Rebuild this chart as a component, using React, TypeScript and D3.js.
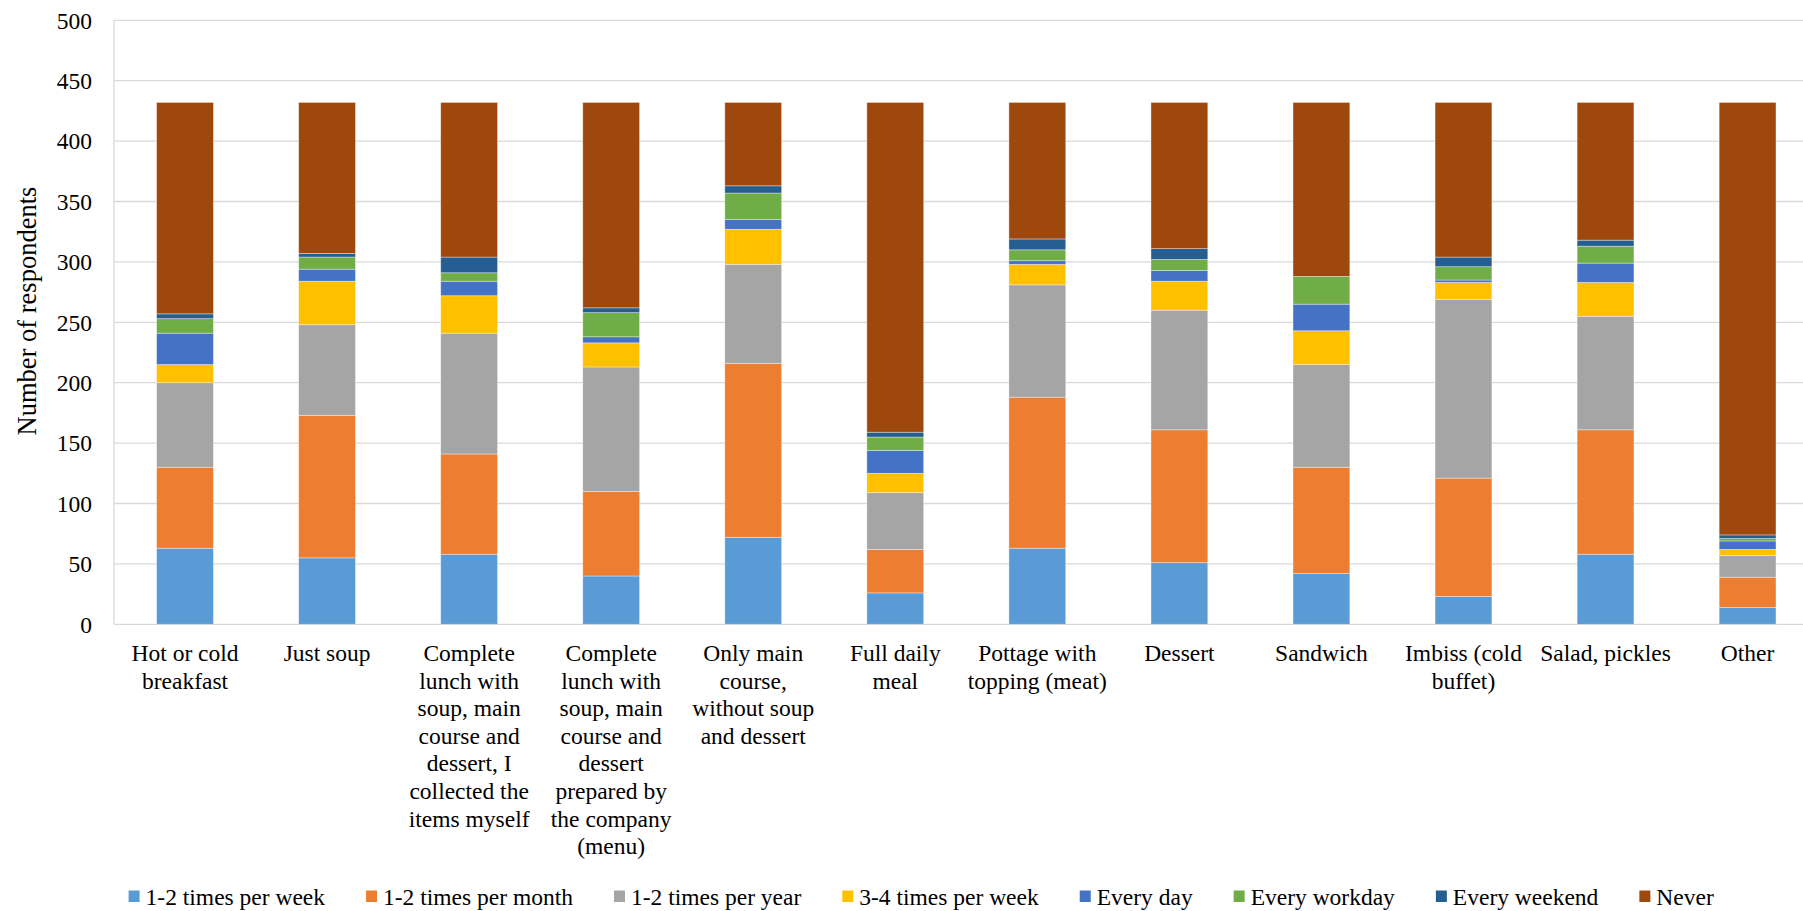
import React from 'react';
import * as d3 from 'd3';

// categories (each entry holds the wrapped label lines)
const categoryLines: string[][] = [
    ['Hot or cold', 'breakfast'],
    ['Just soup'],
    ['Complete', 'lunch with', 'soup, main', 'course and', 'dessert, I', 'collected the', 'items myself'],
    ['Complete', 'lunch with', 'soup, main', 'course and', 'dessert', 'prepared by', 'the company', '(menu)'],
    ['Only main', 'course,', 'without soup', 'and dessert'],
    ['Full daily', 'meal'],
    ['Pottage with', 'topping (meat)'],
    ['Dessert'],
    ['Sandwich'],
    ['Imbiss (cold', 'buffet)'],
    ['Salad, pickles'],
    ['Other'],
];

const seriesNames = [
    '1-2 times per week',
    '1-2 times per month',
    '1-2 times per year',
    '3-4 times per week',
    'Every day',
    'Every workday',
    'Every weekend',
    'Never',
];

const seriesColors = ['#5B9BD5', '#ED7D31', '#A5A5A5', '#FFC000', '#4472C4', '#70AD47', '#255E91', '#9E480E'];

// values per series, one per category
const perWeek12 = [63, 55, 58, 40, 72, 26, 63, 51, 42, 23, 58, 14];
const perMonth12 = [67, 118, 83, 70, 144, 36, 125, 110, 88, 98, 103, 25];
const perYear12 = [70, 75, 100, 103, 82, 47, 93, 99, 85, 148, 94, 18];
const perWeek34 = [15, 36, 31, 20, 29, 16, 17, 24, 28, 14, 28, 5];
const everyDay = [26, 10, 12, 5, 8, 19, 3, 9, 22, 2, 16, 7];
const everyWorkday = [12, 10, 7, 20, 22, 11, 9, 9, 23, 11, 14, 2];
const everyWeekend = [4, 3, 13, 4, 6, 4, 9, 9, 0, 8, 5, 3];
const never = [175, 125, 128, 170, 69, 273, 113, 121, 144, 128, 114, 358];

const yTicks = [0, 50, 100, 150, 200, 250, 300, 350, 400, 450, 500];

const WIDTH = 1803, HEIGHT = 911;
const FONT = "'Liberation Serif', 'Times New Roman', serif";
const FS = 23.5;

export default function App() {
    const seriesValues = [perWeek12, perMonth12, perYear12, perWeek34, everyDay, everyWorkday, everyWeekend, never];
    const keys = categoryLines.map((_, i) => String(i));

    const rows = keys.map((k, i) => {
        const row: any = {key: k};
        seriesNames.forEach((name, s) => { row[name] = seriesValues[s][i]; });
        return row;
    });

    const stacked = d3.stack().keys(seriesNames)(rows);

    const xScale = d3.scaleBand()
        .domain(keys)
        .range([114, 1818.6])
        .paddingInner(0.6)
        .paddingOuter(0.3);

    const yScale = d3.scaleLinear()
        .domain([0, 500])
        .range([624.3, 20.3]);

    // legend layout from measured text widths
    const ctx = document.createElement('canvas').getContext('2d');
    if (ctx) ctx.font = `${FS}px ${FONT}`;
    let lx = 128.6;
    const legendItems = seriesNames.map((name, i) => {
        const w = ctx ? ctx.measureText(name).width : name.length * 10;
        const item = {name, color: seriesColors[i], x: lx};
        lx += 11 + 6 + w + 41;
        return item;
    });

    return (
        <svg width={WIDTH} height={HEIGHT} style={{position: 'absolute', left: 0, top: 0, background: '#fff'}}
             fontFamily={FONT}>
            <rect x={0} y={0} width={WIDTH} height={HEIGHT} fill="#fff"/>

            {/* gridlines */}
            {yTicks.map(t => (
                <line key={t} x1={114} x2={WIDTH} y1={yScale(t)} y2={yScale(t)} stroke="#d9d9d9" strokeWidth={1.3}/>
            ))}
            <line x1={114} x2={114} y1={yScale(500)} y2={yScale(0)} stroke="#d9d9d9" strokeWidth={1.3}/>

            {/* y tick labels */}
            {yTicks.map(t => (
                <text key={t} x={92} y={yScale(t)} dy="0.35em" textAnchor="end" fontSize={FS} fill="#000">{t}</text>
            ))}

            <text transform="translate(27,311) rotate(-90)" textAnchor="middle"
                  dy="0.35em" fontSize={26.5} fill="#000">Number of respondents</text>

            {/* bars */}
            {stacked.map((series, s) => (
                <g key={series.key} fill={seriesColors[s]}>
                    {series.map((d, i) => (
                        d[1] - d[0] > 0 ?
                            <rect key={i}
                                  x={xScale(keys[i])}
                                  y={yScale(d[1])}
                                  width={xScale.bandwidth()}
                                  height={yScale(d[0]) - yScale(d[1])}
                                  stroke="#ffffff" strokeOpacity={0.45} strokeWidth={0.8}/> : null
                    ))}
                </g>
            ))}

            {/* category labels */}
            {categoryLines.map((lines, i) => (
                <text key={i} textAnchor="middle" fontSize={FS} fill="#000"
                      x={(xScale(keys[i]) || 0) + xScale.bandwidth() / 2}>
                    {lines.map((line, j) => (
                        <tspan key={j} x={(xScale(keys[i]) || 0) + xScale.bandwidth() / 2} y={661 + j * 27.6}>{line}</tspan>
                    ))}
                </text>
            ))}

            {/* legend */}
            {legendItems.map(item => (
                <g key={item.name}>
                    <rect x={item.x} y={890.5} width={11} height={11.5} fill={item.color}/>
                    <text x={item.x + 17} y={904.5} fontSize={FS} fill="#000">{item.name}</text>
                </g>
            ))}
        </svg>
    );
}
